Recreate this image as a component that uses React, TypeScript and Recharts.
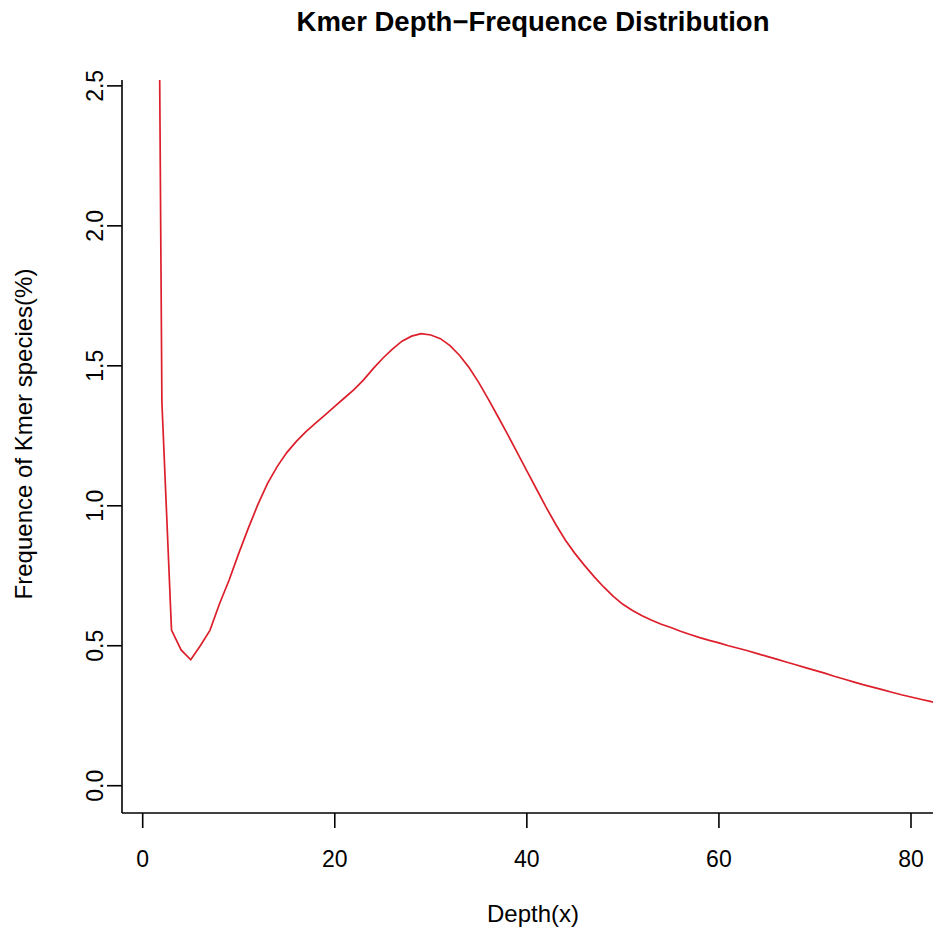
import React from 'react';
import { LineChart, Line, XAxis, YAxis } from 'recharts';

const depths: number[] = [
  1, 2, 3, 4, 5, 6, 7, 8, 9, 10,
  11, 12, 13, 14, 15, 16, 17, 18, 19, 20,
  21, 22, 23, 24, 25, 26, 27, 28, 29, 30,
  31, 32, 33, 34, 35, 36, 37, 38, 39, 40,
  41, 42, 43, 44, 45, 46, 47, 48, 49, 50,
  51, 52, 53, 54, 55, 56, 57, 58, 59, 60,
  61, 62, 63, 64, 65, 66, 67, 68, 69, 70,
  71, 72, 73, 74, 75, 76, 77, 78, 79, 80,
  81, 82, 83,
];

const frequence: number[] = [
  6.4, 1.37, 0.556, 0.485, 0.45, 0.5, 0.555, 0.65, 0.735, 0.83,
  0.92, 1.005, 1.08, 1.14, 1.19, 1.23, 1.265, 1.295, 1.325, 1.355,
  1.385, 1.415, 1.45, 1.49, 1.527, 1.56, 1.588, 1.606, 1.615, 1.61,
  1.597, 1.572, 1.537, 1.493, 1.44, 1.38, 1.318, 1.255, 1.19, 1.125,
  1.06, 0.995, 0.934, 0.878, 0.83, 0.787, 0.747, 0.71, 0.676, 0.648,
  0.626, 0.607, 0.591, 0.577, 0.565, 0.552, 0.54, 0.529, 0.519, 0.51,
  0.5, 0.491, 0.482, 0.472, 0.462, 0.452, 0.442, 0.432, 0.422, 0.412,
  0.402, 0.391, 0.381, 0.371, 0.361, 0.352, 0.343, 0.334, 0.325, 0.317,
  0.309, 0.301, 0.293,
];

const xTicks: number[] = [0, 20, 40, 60, 80];
const yTicks: number[] = [0, 0.5, 1.0, 1.5, 2.0, 2.5];

const titleText = 'Kmer Depth\u2212Frequence Distribution';
const xTitle = 'Depth(x)';
const yTitle = 'Frequence of Kmer species(%)';

const X_DOMAIN: [number, number] = [-2.155, 83.02];
const Y_DOMAIN: [number, number] = [-0.0975, 2.521];

const data = depths.map((d, i) => ({ depth: d, freq: frequence[i] }));

const FONT = '"Liberation Sans", Arial, Helvetica, sans-serif';
const TICK_FS = 23;

const XTick = (props: any) => {
  const { x, y, payload } = props;
  return (
    <text x={x} y={y} dy={37} textAnchor="middle" fontSize={TICK_FS} fontFamily={FONT} fill="#000">
      {String(payload.value)}
    </text>
  );
};

const YTick = (props: any) => {
  const { x, y, payload } = props;
  return (
    <text
      transform={`translate(${x - 2},${y}) rotate(-90)`}
      textAnchor="middle"
      fontSize={TICK_FS}
      fontFamily={FONT}
      fill="#000"
    >
      {Number(payload.value).toFixed(1)}
    </text>
  );
};

export default function App() {
  return (
    <div
      style={{
        position: 'absolute',
        left: 0,
        top: 0,
        width: 933,
        height: 933,
        overflow: 'hidden',
        background: '#fff',
        fontFamily: FONT,
      }}
    >
      <LineChart
        width={960}
        height={933}
        data={data}
        margin={{ top: 80, right: 20, bottom: 20, left: 0 }}
      >
        <XAxis
          xAxisId="top"
          orientation="top"
          dataKey="depth"
          type="number"
          domain={X_DOMAIN}
          allowDataOverflow
          height={0}
          tick={false}
          tickLine={false}
          axisLine={{ stroke: '#000', strokeWidth: 1.6 }}
        />
        <XAxis
          dataKey="depth"
          type="number"
          domain={X_DOMAIN}
          allowDataOverflow
          ticks={xTicks}
          height={100}
          tickSize={15}
          tick={<XTick />}
          tickLine={{ stroke: '#000', strokeWidth: 1.6 }}
          axisLine={{ stroke: '#000', strokeWidth: 1.6 }}
        />
        <YAxis
          type="number"
          domain={Y_DOMAIN}
          allowDataOverflow
          ticks={yTicks}
          width={122}
          tickSize={15}
          tick={<YTick />}
          tickLine={{ stroke: '#000', strokeWidth: 1.6 }}
          axisLine={{ stroke: '#000', strokeWidth: 1.6 }}
        />
        <Line
          dataKey="freq"
          type="linear"
          stroke="#dc1f2a"
          strokeWidth={1.7}
          dot={false}
          isAnimationActive={false}
        />
      </LineChart>
      <div
        style={{
          position: 'absolute',
          left: 0,
          width: 1066,
          top: 6,
          textAlign: 'center',
          fontSize: 27.5,
          fontWeight: 'bold',
          color: '#000',
          lineHeight: '32px',
        }}
      >
        {titleText}
      </div>
      <div
        style={{
          position: 'absolute',
          left: 0,
          width: 1066,
          top: 900,
          textAlign: 'center',
          fontSize: 24,
          color: '#000',
          lineHeight: '28px',
        }}
      >
        {xTitle}
      </div>
      <div
        style={{
          position: 'absolute',
          left: 24 - 300,
          top: 434 - 14,
          width: 600,
          textAlign: 'center',
          fontSize: 24,
          color: '#000',
          lineHeight: '28px',
          transform: 'rotate(-90deg)',
        }}
      >
        {yTitle}
      </div>
    </div>
  );
}
